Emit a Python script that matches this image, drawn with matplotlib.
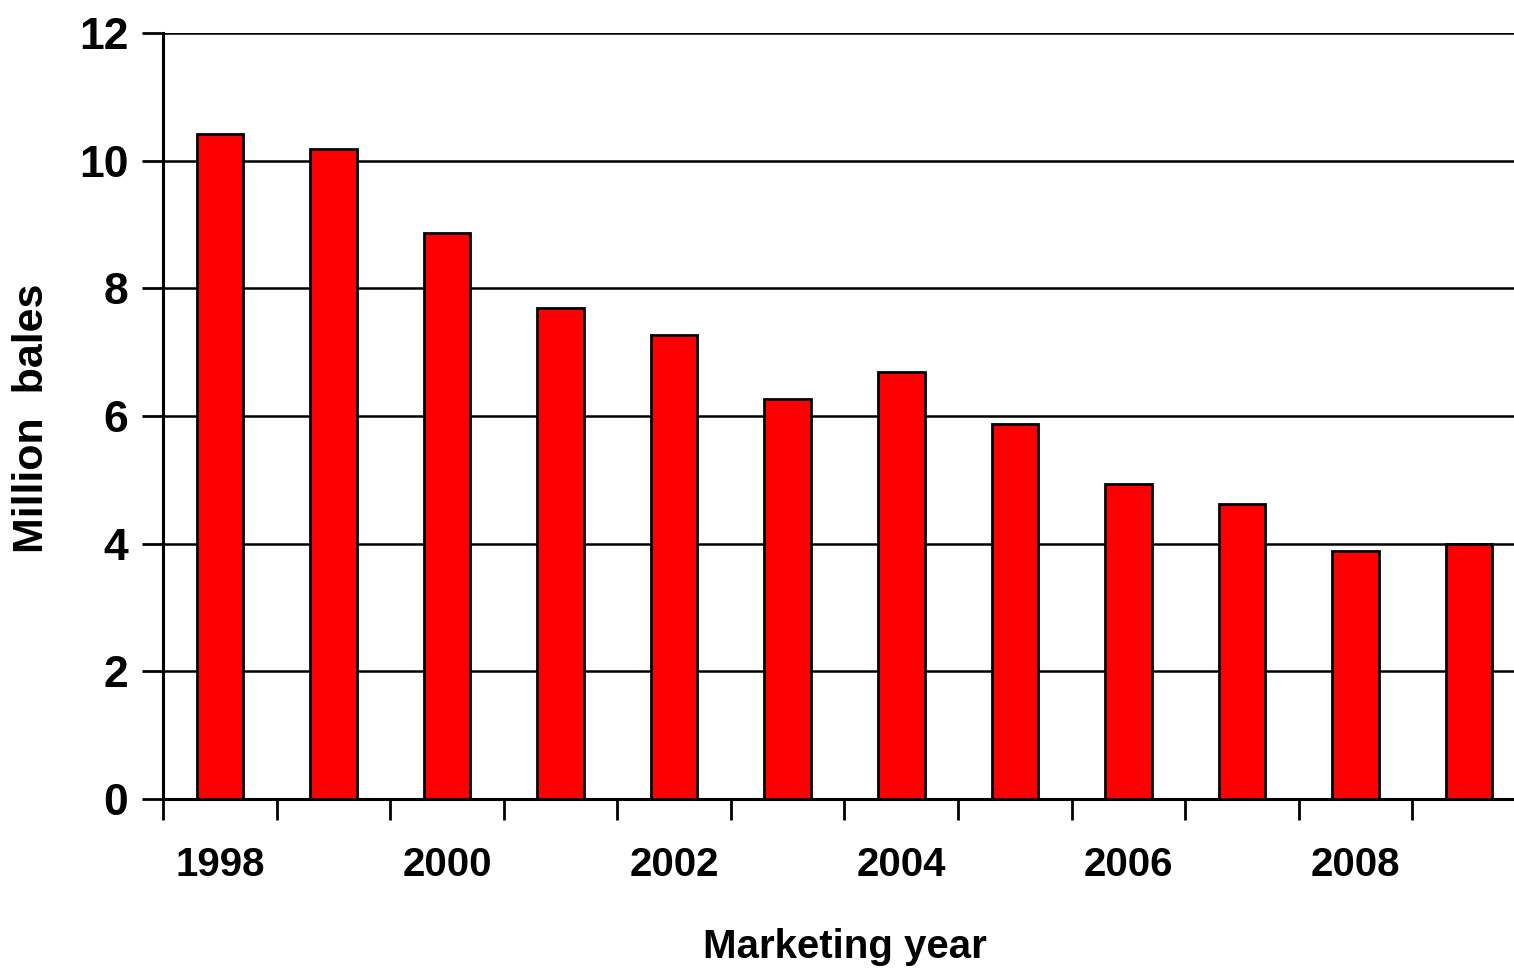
import numpy as np
import matplotlib
import matplotlib.pyplot as plt
from matplotlib.ticker import FixedLocator, NullFormatter

matplotlib.rcParams['font.family'] = ['Liberation Sans Narrow', 'Liberation Sans', 'DejaVu Sans']
matplotlib.rcParams['font.weight'] = 'bold'

years = [1998, 1999, 2000, 2001, 2002, 2003, 2004, 2005, 2006, 2007, 2008, 2009]
bales = [10.42, 10.18, 8.87, 7.69, 7.27, 6.27, 6.69, 5.87, 4.93, 4.62, 3.89, 4.00]
label_years = [1998, 2000, 2002, 2004, 2006, 2008]
yticks = [0, 2, 4, 6, 8, 10, 12]

fig = plt.figure(figsize=(15.14, 9.74), dpi=100)
W, H = 1514, 974
left, right = 163, 1526
bottom, top = 799, 33
ax = fig.add_axes([left / W, 1 - bottom / H, (right - left) / W, (bottom - top) / H])

x = np.arange(len(years))
ax.bar(x, bales, width=0.41, color='#ff0000', edgecolor='black', linewidth=2, zorder=3)

ax.set_xlim(-0.5, len(years) - 0.5)
ax.set_ylim(0, 12)

ax.set_yticks(yticks)
ax.set_yticklabels([str(v) for v in yticks], fontsize=32, fontweight='bold')
ax.yaxis.grid(True, color='black', linewidth=1.8, zorder=0)
ax.set_axisbelow(True)

ax.xaxis.set_major_locator(FixedLocator(np.arange(len(years) + 1) - 0.5))
ax.xaxis.set_major_formatter(NullFormatter())
pos = [years.index(y) for y in label_years]
ax.set_xticks(pos, minor=True)
ax.set_xticklabels([str(y) for y in label_years], minor=True, fontsize=29, fontweight='bold')

ax.tick_params(axis='x', which='major', direction='out', length=15, width=2, color='black')
ax.tick_params(axis='x', which='minor', length=0, pad=34)
ax.tick_params(axis='y', direction='out', length=15, width=2, pad=10)

for s in ['top', 'right']:
    ax.spines[s].set_visible(False)
ax.spines['left'].set_linewidth(2.2)
ax.spines['bottom'].set_linewidth(2.2)

fig.text(845 / W, 1 - 947 / H, 'Marketing year', fontsize=29, fontweight='bold',
         ha='center', va='center')
fig.text(32 / W, 1 - 418 / H, 'Million  bales', fontsize=31, fontweight='bold',
         ha='center', va='center', rotation=90)

fig.savefig('out.png', dpi=100)
